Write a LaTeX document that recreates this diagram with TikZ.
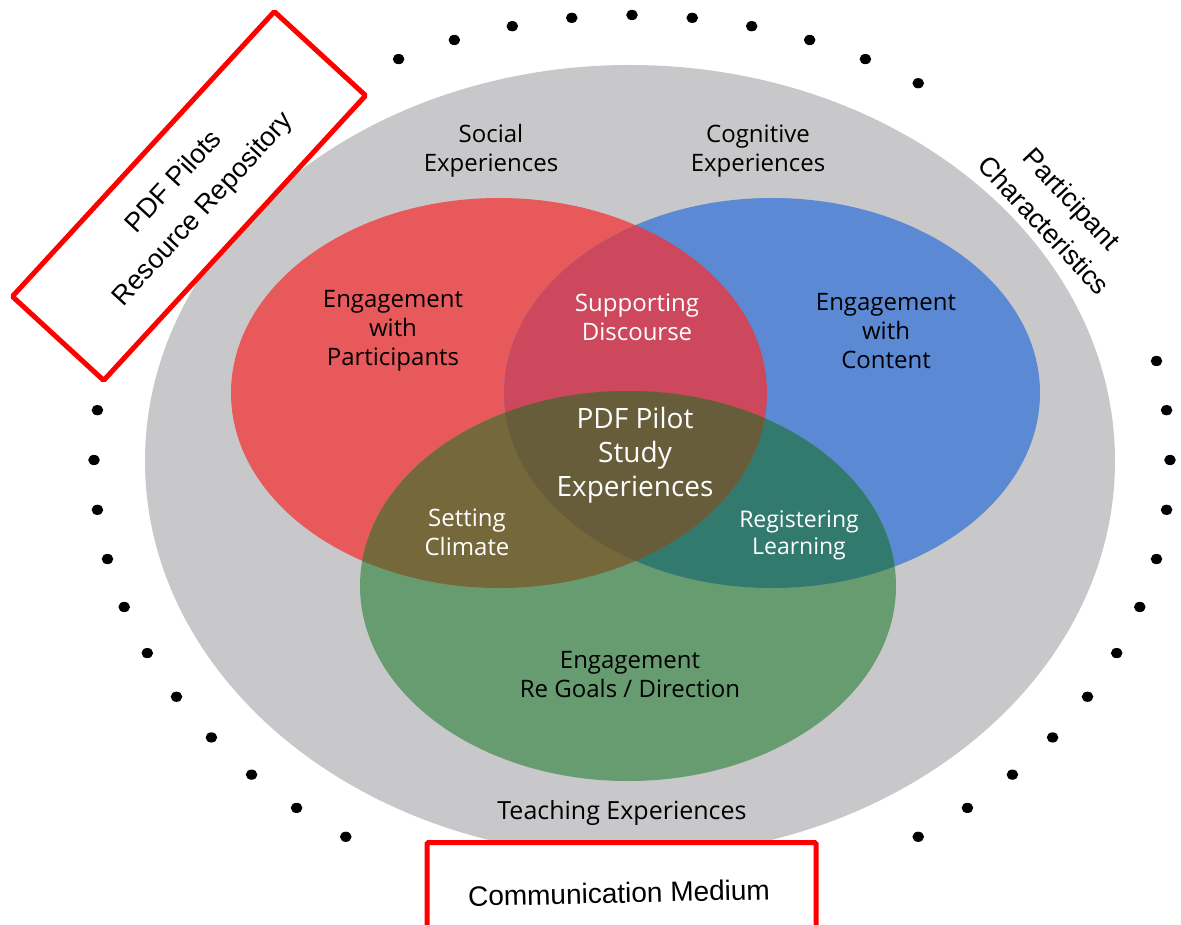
\documentclass[tikz,border=0pt]{standalone}
\usepackage{fontspec}
\setmainfont{Open Sans}
\newfontfamily\boxfont{Liberation Sans}
\usetikzlibrary{positioning}

\definecolor{ringgray}{RGB}{200,200,202}
\definecolor{socialred}{RGB}{232,89,91}
\definecolor{cognitiveblue}{RGB}{91,137,212}
\definecolor{teachinggreen}{RGB}{103,155,112}
\definecolor{discoursered}{RGB}{205,72,92}
\definecolor{climateolive}{RGB}{117,104,58}
\definecolor{learningteal}{RGB}{50,122,110}
\definecolor{pilotbrown}{RGB}{103,93,58}
\definecolor{boxred}{RGB}{255,0,0}

\newcommand{\socialset}{(499,-393) ellipse [x radius=268, y radius=195]}
\newcommand{\cognitiveset}{(772,-393) ellipse [x radius=268, y radius=195]}
\newcommand{\teachingset}{(628,-586) ellipse [x radius=268, y radius=195]}

\begin{document}
\begin{tikzpicture}[x=1pt,y=1pt,on grid,
    setlabel/.style={align=center,font=\fontsize{24}{29}\selectfont},
    overlaplabel/.style={setlabel,text=white},
    pilotlabel/.style={overlaplabel,font=\fontsize{28}{34}\selectfont},
    boxlabel/.style={align=center,font=\boxfont\fontsize{27}{38}\selectfont},
    redbox/.style={draw=boxred,line width=5pt,fill=white,rounded corners=1.5pt}]

    \useasboundingbox (0,0) rectangle (1181,-925);

    % outer ring and its dots
    \fill[ringgray] (630,-461) ellipse [x radius=485, y radius=396];
    \foreach \k in {-23,-22,...,-12,-5,-4,...,23}
        \fill ({632+538*cos(90+6.4286*\k)},{-460+445*sin(90+6.4286*\k)}) ellipse [x radius=5.8, y radius=5.1];

    % the three sets and their overlaps
    \fill[socialred] \socialset;
    \fill[cognitiveblue] \cognitiveset;
    \fill[teachinggreen] \teachingset;
    \begin{scope}
        \clip \cognitiveset;
        \fill[learningteal] \teachingset;
    \end{scope}
    \begin{scope}
        \clip \socialset;
        \fill[discoursered] \cognitiveset;
        \fill[climateolive] \teachingset;
        \clip \cognitiveset;
        \fill[pilotbrown] \teachingset;
    \end{scope}

    \node[setlabel] (social) at (491,-151) {Social\\Experiences};
    \node[setlabel] (cognitive) [right=267pt of social] {Cognitive\\Experiences};
    \node[setlabel] (participants) at (393,-331) {Engagement\\with\\Participants};
    \node[setlabel] (content) [right=493pt of participants] {Engagement\\with\\Content};
    \node[overlaplabel] (discourse) at (637,-317) {Supporting\\Discourse};
    \node[pilotlabel] (pilot) at (635,-455) {PDF Pilot\\Study\\Experiences};
    \node[overlaplabel] (climate) at (467,-532) {Setting\\Climate};
    \node[overlaplabel,font=\fontsize{23}{27}\selectfont] (learning) at (799,-535) {Registering\\Learning};
    \node[setlabel] (goals) at (630,-675) {Engagement\\Re Goals / Direction};
    \node[setlabel,font=\fontsize{25}{29}\selectfont] (teaching) at (622,-813) {Teaching Experiences};
    \node[boxlabel,rotate=-47] (characteristics) at (1058,-212) {Participant\\Characteristics};

    % red frames
    \node[redbox,boxlabel,font=\boxfont\fontsize{27}{40}\selectfont,rotate=47.4,minimum width=387pt,minimum height=124pt] (repository) at (189,-196) {PDF Pilots\\Resource Repository};
    \node[redbox,anchor=north,minimum width=389pt,minimum height=150pt] (medium) at (621.5,-840) {};
    \node[boxlabel,font=\boxfont\fontsize{28}{33}\selectfont,rotate=1.3] (mediumlabel) at (619,-893) {Communication Medium};
\end{tikzpicture}
\end{document}
